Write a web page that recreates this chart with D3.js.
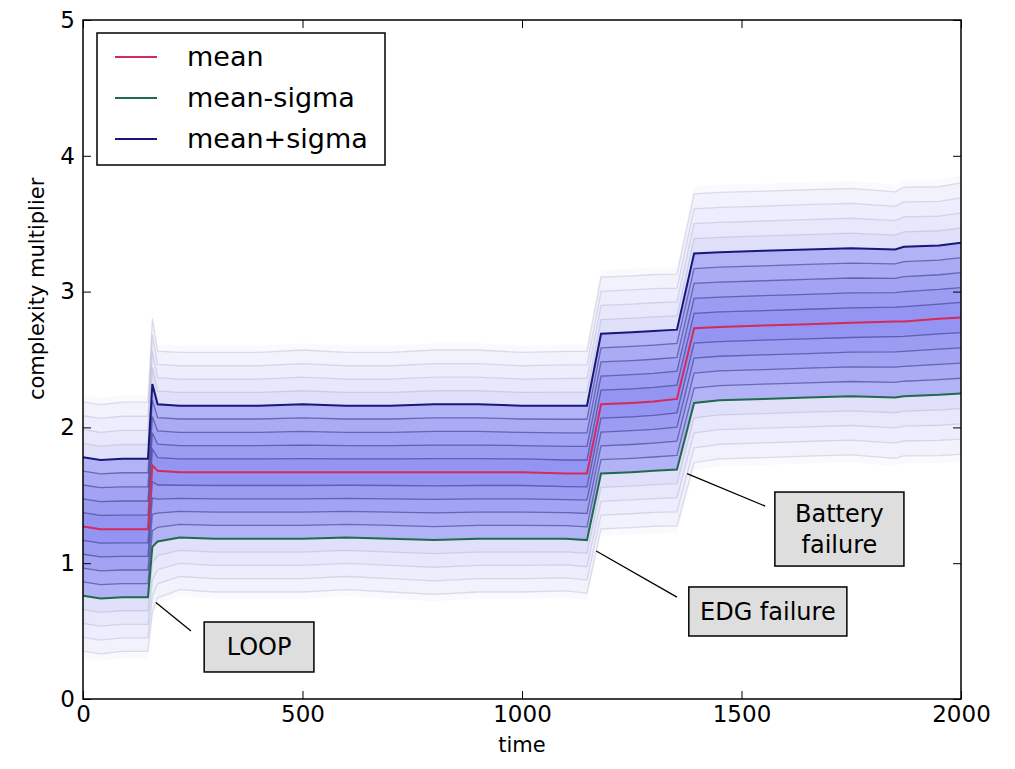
<!DOCTYPE html>
<html>
<head>
<meta charset="utf-8">
<script src="https://cdn.jsdelivr.net/npm/d3@7"></script>
<style>
  body { margin: 0; background: #fff; }
  svg text { font-family: "DejaVu Sans", sans-serif; fill: #000; }
</style>
</head>
<body>
<svg id="chart" width="1015" height="769"></svg>
<script>
// values
const times     = [0, 40, 90, 148, 158, 170, 220, 300, 400, 500, 600, 700, 800, 900, 1000, 1100, 1148, 1180, 1250, 1300, 1353, 1392, 1450, 1550, 1650, 1750, 1850, 1870, 1950, 2000];
const meanVals  = [1.27, 1.25, 1.25, 1.25, 1.72, 1.68, 1.67, 1.67, 1.67, 1.67, 1.67, 1.67, 1.67, 1.67, 1.67, 1.66, 1.66, 2.17, 2.18, 2.19, 2.21, 2.73, 2.74, 2.75, 2.76, 2.77, 2.78, 2.78, 2.80, 2.81];
const upperVals = [1.78, 1.76, 1.77, 1.77, 2.32, 2.17, 2.16, 2.16, 2.16, 2.17, 2.16, 2.16, 2.17, 2.17, 2.16, 2.16, 2.16, 2.69, 2.70, 2.71, 2.72, 3.28, 3.29, 3.30, 3.31, 3.32, 3.31, 3.33, 3.34, 3.36];
const lowerVals = [0.76, 0.74, 0.75, 0.75, 1.12, 1.16, 1.19, 1.18, 1.18, 1.18, 1.19, 1.18, 1.17, 1.18, 1.18, 1.18, 1.17, 1.66, 1.67, 1.68, 1.69, 2.18, 2.20, 2.21, 2.22, 2.23, 2.22, 2.23, 2.24, 2.25];

// fan levels, in units of sigma
const fanEdges = [-1.9, -1.8, -1.6, -1.4, -1.2, -1.0, -0.8, -0.6, -0.4, -0.2, 0, 0.2, 0.4, 0.6, 0.8, 1.0, 1.2, 1.4, 1.6, 1.8, 1.9];
const fanAlpha = {0.2: 0.42, 0.4: 0.39, 0.6: 0.36, 0.8: 0.33, 1.0: 0.30, 1.2: 0.12, 1.4: 0.09, 1.6: 0.07, 1.8: 0.05, 1.9: 0.025};

const xTicks = [0, 500, 1000, 1500, 2000];
const yTicks = [0, 1, 2, 3, 4, 5];

const legendLabels = ["mean", "mean-sigma", "mean+sigma"];
const legendColors = ["#d42a5c", "#1f6b4a", "#18187a"];

// annotation text, pointer (tip -> end) and box corners, in data units
const noteLabels = [["LOOP"], ["EDG failure"], ["Battery", "failure"]];
const noteTips   = [[166, 0.71], [1169, 1.09], [1376, 1.66]];
const noteEnds   = [[246, 0.50], [1353, 0.75], [1554, 1.42]];
const noteBoxes  = [[276, 526, 0.567, 0.199], [1380, 1740, 0.825, 0.464], [1576, 1870, 1.524, 0.979]];

let svg = d3.select("#chart");
let margin = {top: 20, right: 54, bottom: 70, left: 83};
let width = 1015 - margin.left - margin.right;
let height = 769 - margin.top - margin.bottom;

let x = d3.scaleLinear().domain([0, 2000]).range([margin.left, margin.left + width]);
let y = d3.scaleLinear().domain([0, 5]).range([margin.top + height, margin.top]);

let rows = times.map((t, i) => ({t: t, m: meanVals[i], up: upperVals[i], lo: lowerVals[i]}));

function level(d, f) {
    return f >= 0 ? d.m + f * (d.up - d.m) : d.m + f * (d.m - d.lo);
}

svg.append("clipPath").attr("id", "plotclip")
    .append("rect")
    .attr("x", margin.left).attr("y", margin.top)
    .attr("width", width).attr("height", height);

let plot = svg.append("g").attr("clip-path", "url(#plotclip)");

// shaded strips between fan levels
for (let i = 0; i < fanEdges.length - 1; i++) {
    let f0 = fanEdges[i], f1 = fanEdges[i + 1];
    let outer = Math.round(Math.max(Math.abs(f0), Math.abs(f1)) * 10) / 10;
    let area = d3.area()
        .x(d => x(d.t))
        .y0(d => y(level(d, f0)))
        .y1(d => y(level(d, f1)));
    plot.append("path")
        .datum(rows)
        .attr("d", area)
        .attr("fill", "#0000e0")
        .attr("fill-opacity", fanAlpha[outer])
        .attr("stroke", "none");
}

// thin fan lines
fanEdges.forEach(f => {
    let a = Math.abs(f);
    if (a === 0 || a === 1 || a > 1.85) return;
    let line = d3.line().x(d => x(d.t)).y(d => y(level(d, f)));
    plot.append("path")
        .datum(rows)
        .attr("d", line)
        .attr("fill", "none")
        .attr("stroke", a < 1 ? "#101060" : "#707098")
        .attr("stroke-opacity", a < 1 ? 0.45 : 0.2)
        .attr("stroke-width", 1.3);
});

// main lines
let mainLines = [
    {key: "lo", color: legendColors[1]},
    {key: "up", color: legendColors[2]},
    {key: "m", color: legendColors[0]}
];
mainLines.forEach(s => {
    plot.append("path")
        .datum(rows)
        .attr("d", d3.line().x(d => x(d.t)).y(d => y(d[s.key])))
        .attr("fill", "none")
        .attr("stroke", s.color)
        .attr("stroke-width", 2);
});

// axes, ticks inside on all four sides
let fmt = d3.format("d");
let axisB = svg.append("g").attr("transform", "translate(0," + (margin.top + height) + ")")
    .call(d3.axisBottom(x).tickValues(xTicks).tickFormat(fmt).tickSizeInner(-8).tickSizeOuter(0).tickPadding(7));
let axisT = svg.append("g").attr("transform", "translate(0," + margin.top + ")")
    .call(d3.axisTop(x).tickValues(xTicks).tickSizeInner(-8).tickSizeOuter(0).tickFormat(""));
let axisL = svg.append("g").attr("transform", "translate(" + margin.left + ",0)")
    .call(d3.axisLeft(y).tickValues(yTicks).tickFormat(fmt).tickSizeInner(-8).tickSizeOuter(0).tickPadding(8));
let axisR = svg.append("g").attr("transform", "translate(" + (margin.left + width) + ",0)")
    .call(d3.axisRight(y).tickValues(yTicks).tickSizeInner(-8).tickSizeOuter(0).tickFormat(""));

[axisB, axisT, axisL, axisR].forEach(a => {
    a.select(".domain").remove();
    a.selectAll(".tick line").attr("stroke", "#000").attr("stroke-width", 1);
    a.selectAll("text").attr("font-size", 23).attr("font-family", "DejaVu Sans");
});

svg.append("rect")
    .attr("x", margin.left).attr("y", margin.top)
    .attr("width", width).attr("height", height)
    .attr("fill", "none").attr("stroke", "#000").attr("stroke-width", 1.5);

svg.append("text")
    .attr("x", margin.left + width / 2).attr("y", 752)
    .attr("text-anchor", "middle").attr("font-size", 21)
    .text("time");

svg.append("text")
    .attr("transform", "translate(44," + y(3.02) + ") rotate(-90)")
    .attr("text-anchor", "middle").attr("font-size", 21)
    .text("complexity multiplier");

// annotations
noteLabels.forEach((lines, i) => {
    let g = svg.append("g");
    g.append("line")
        .attr("x1", x(noteTips[i][0])).attr("y1", y(noteTips[i][1]))
        .attr("x2", x(noteEnds[i][0])).attr("y2", y(noteEnds[i][1]))
        .attr("stroke", "#000").attr("stroke-width", 1.3);
    let b = noteBoxes[i];
    let x0 = x(b[0]), x1 = x(b[1]), y0 = y(b[2]), y1 = y(b[3]);
    g.append("rect")
        .attr("x", x0).attr("y", y0)
        .attr("width", x1 - x0).attr("height", y1 - y0)
        .attr("fill", "#dedede").attr("stroke", "#000").attr("stroke-width", 1.5);
    let cx = (x0 + x1) / 2, cy = (y0 + y1) / 2;
    let lh = 31;
    let txt = g.append("text")
        .attr("text-anchor", "middle")
        .attr("font-family", "Roboto, Lato, sans-serif")
        .attr("font-size", 24);
    lines.forEach((s, j) => {
        txt.append("tspan")
            .attr("x", cx)
            .attr("y", cy + (j - (lines.length - 1) / 2) * lh)
            .attr("dy", "0.35em")
            .text(s);
    });
});

// legend
let legend = svg.append("g").attr("transform", "translate(97,33)");
legend.append("rect")
    .attr("width", 288).attr("height", 132)
    .attr("fill", "#fff").attr("stroke", "#000").attr("stroke-width", 1.5);
let items = legend.selectAll("g.item")
    .data(legendLabels)
    .enter().append("g")
    .attr("class", "item")
    .attr("transform", (d, i) => "translate(0," + (24 + i * 41) + ")");
items.append("line")
    .attr("x1", 18).attr("x2", 60)
    .attr("stroke", (d, i) => legendColors[i]).attr("stroke-width", 2);
items.append("text")
    .attr("x", 90).attr("dy", "0.35em")
    .attr("font-size", 27)
    .text(d => d);
</script>
</body>
</html>
